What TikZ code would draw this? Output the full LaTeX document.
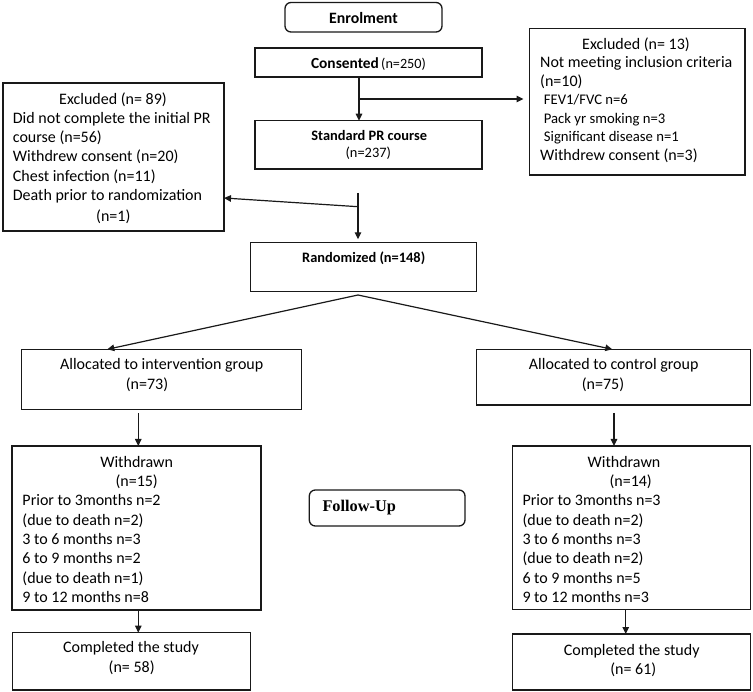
\documentclass[tikz,border=0pt]{standalone}
\usepackage{fontspec}
\setmainfont{Carlito}
\newfontfamily\fuserif{Liberation Serif}
\usetikzlibrary{arrows.meta,calc}
\begin{document}
\begin{tikzpicture}[x=1pt,y=-1pt,
  box/.style={draw=black!90, line width=1.3pt, inner sep=0pt, outer sep=0pt},
  rbox/.style={box, rounded corners=6pt},
  arr/.style={-{Triangle[length=7pt,width=6.5pt]}, line width=1.2pt, draw=black!90},
  tx/.style={inner sep=0pt, yshift=-2.3pt},
  txtc/.style={tx, anchor=mid, font=\fontsize{16}{19}\selectfont},
  txtl/.style={tx, anchor=mid west, font=\fontsize{16}{19}\selectfont},
  smallt/.style={tx, anchor=mid west, font=\fontsize{14.7}{17}\selectfont},
  boldt/.style={tx, anchor=mid, font=\fontsize{14.4}{17}\selectfont\bfseries}
]
\useasboundingbox (0,0) rectangle (753,692);

% ---------- boxes ----------
\node[rbox, minimum width=157pt, minimum height=29.5pt] (enrol) at (363.5,17.25) {};
\node[box, minimum width=227pt, minimum height=29pt] (cons) at (368.5,62.5) {};
\node[box, minimum width=227pt, minimum height=48.3pt] (std) at (368.5,144.85) {};
\node[box, minimum width=215.5pt, minimum height=146.7pt] (exclR) at (637.25,101.65) {};
\node[box, minimum width=221pt, minimum height=148pt] (exclL) at (113.5,157) {};
\node[box, minimum width=226pt, minimum height=49.4pt] (rand) at (363.7,267) {};
\node[box, minimum width=279.9pt, minimum height=60pt] (intv) at (161.65,379.3) {};
\node[box, minimum width=274.4pt, minimum height=55.7pt] (ctrl) at (613.5,377.15) {};
\node[box, minimum width=249pt, minimum height=164pt] (wdL) at (136.5,528) {};
\node[box, minimum width=238.4pt, minimum height=163.5pt] (wdR) at (631.5,527.75) {};
\node[box, minimum width=238.4pt, minimum height=57.3pt] (compL) at (131.5,661.35) {};
\node[box, minimum width=238.4pt, minimum height=56pt] (compR) at (631.5,662) {};
\node[rbox, minimum width=155.7pt, minimum height=36pt] (follow) at (387.15,508) {};

% ---------- texts ----------
\node[tx, anchor=mid, font=\fontsize{15.8}{19}\selectfont\bfseries] (tenrol) at (363.5,18.5) {Enrolment};
\node[tx, anchor=mid] (tcons) at (368.5,64.3) {{\fontsize{15.4}{18}\selectfont\bfseries Consented} {\fontsize{14.2}{17}\selectfont(n=250)}};
\node[boldt] (tstd1) at (369.2,136) {Standard PR course};
\node[tx, anchor=mid, font=\fontsize{14.4}{17}\selectfont] (tstd2) at (368.3,153.3) {(n=237)};

\node[txtc] (tr1) at (636,45) {Excluded (n= 13)};
\node[txtl] (tr2) at (540,63) {Not meeting inclusion criteria};
\node[txtl] (tr3) at (540,81.7) {(n=10)};
\node[smallt] (tr4) at (543.7,100) {FEV1/FVC n=6};
\node[smallt] (tr5) at (543.7,118.5) {Pack yr smoking n=3};
\node[smallt] (tr6) at (543.7,137) {Significant disease n=1};
\node[txtl] (tr7) at (540,156) {Withdrew consent (n=3)};

\node[txtc] (tl1) at (113,99.5) {Excluded (n= 89)};
\node[txtl] (tl2) at (12.7,119) {Did not complete the initial PR};
\node[txtl] (tl3) at (12.7,137.7) {course (n=56)};
\node[txtl] (tl4) at (12.7,157) {Withdrew consent (n=20)};
\node[txtl] (tl5) at (12.7,176.7) {Chest infection (n=11)};
\node[txtl] (tl6) at (12.7,196) {Death prior to randomization};
\node[txtc] (tl7) at (113.3,216.7) {(n=1)};

\node[boldt] (trand) at (363.7,257.7) {Randomized (n=148)};

\node[txtc] (ti1) at (161.7,365) {Allocated to intervention group};
\node[txtc] (ti2) at (147,385) {(n=73)};
\node[txtc] (tc1) at (613.7,365) {Allocated to control group};
\node[txtc] (tc2) at (603,385) {(n=75)};

\node[txtc] (twl1) at (136.7,463) {Withdrawn};
\node[txtc] (twl2) at (136.7,482) {(n=15)};
\node[txtl] (twl3) at (22.3,501) {Prior to 3months n=2};
\node[txtl] (twl4) at (22.3,520.4) {(due to death n=2)};
\node[txtl] (twl5) at (22.3,539.8) {3 to 6 months n=3};
\node[txtl] (twl6) at (22.3,559.2) {6 to 9 months n=2};
\node[txtl] (twl7) at (22.3,578.6) {(due to death n=1)};
\node[txtl] (twl8) at (22.3,598) {9 to 12 months n=8};

\node[txtc] (twr1) at (624,463) {Withdrawn};
\node[txtc] (twr2) at (630.7,482) {(n=14)};
\node[txtl] (twr3) at (522.3,501) {Prior to 3months n=3};
\node[txtl] (twr4) at (522.3,520.4) {(due to death n=2)};
\node[txtl] (twr5) at (522.3,539.8) {3 to 6 months n=3};
\node[txtl] (twr6) at (522.3,559.2) {(due to death n=2)};
\node[txtl] (twr7) at (522.3,578.6) {6 to 9 months n=5};
\node[txtl] (twr8) at (522.3,598) {9 to 12 months n=3};

\node[txtc] (tcl1) at (131,648.3) {Completed the study};
\node[txtc] (tcl2) at (131.7,667.7) {(n= 58)};
\node[txtc] (tcr1) at (631.7,650.7) {Completed the study};
\node[txtc] (tcr2) at (633.3,670) {(n= 61)};

\node[tx, anchor=mid west, font=\fuserif\fontsize{16.3}{19}\selectfont\bfseries] (tfollow) at (322.3,506.7) {Follow-Up};

% ---------- connectors ----------
\coordinate (x1) at (359,0);
\coordinate (br1) at (359,99);
\coordinate (s2) at (358,193);
\coordinate (br2) at (358,206.7);
\coordinate (e4) at (224,198);
\coordinate (rb) at (358,295);
\coordinate (ti) at (107.3,0);
\coordinate (tc) at (612.3,0);
\coordinate (xl) at (138.3,0);
\coordinate (xr) at (614,0);
\coordinate (xr2) at (625.7,0);

\draw[arr] (cons.south -| x1) -- (std.north -| x1);
\draw[arr, shorten >=6pt] (br1) -- (br1 -| exclR.west);
\draw[arr, shorten >=3pt] (s2) -- (rand.north -| s2);
\draw[arr] (br2) -- (e4 -| exclL.east);
\draw[arr] (rb) -- (intv.north -| ti);
\draw[arr] (rb) -- (ctrl.north -| tc);
\draw[arr] ($(intv.south -| xl)+(0,4)$) -- (wdL.north -| xl);
\draw[arr] ($(ctrl.south -| xr)+(0,8)$) -- (wdR.north -| xr);
\draw[arr] (wdL.south -| xl) -- (compL.north -| xl);
\draw[arr] (wdR.south -| xr2) -- (compR.north -| xr2);
\end{tikzpicture}
\end{document}
